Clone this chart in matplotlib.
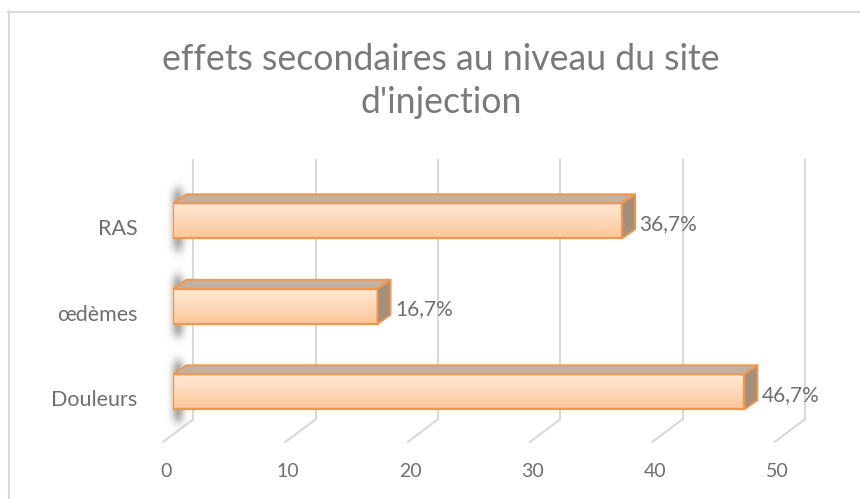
import matplotlib.pyplot as plt
import numpy as np
from matplotlib.patches import Polygon, Rectangle
from matplotlib.lines import Line2D

plt.rcParams['font.family'] = ['Lato', 'DejaVu Sans']
plt.rcParams['image.composite_image'] = False

# data
categories = ["Douleurs", "œdèmes", "RAS"]
values = [46.7, 16.7, 36.7]
value_labels = ["46,7%", "16,7%", "36,7%"]
x_ticks = [0, 10, 20, 30, 40, 50]
title_lines = ["effets secondaires au niveau du site", "d'injection"]

W, H = 860, 499
fig = plt.figure(figsize=(W / 100, H / 100), dpi=100)

# axes geometry (pixels, from top-left) for the bar front plane
x0_px, x_scale = 173.3, 12.23      # px per unit on x
y0_px, y_scale = 391.8, 85.5       # px per category step
xmax, ylo, yhi = 50, -0.6, 2.6
left_px = x0_px
right_px = x0_px + xmax * x_scale
bot_px = y0_px - ylo * y_scale
top_px = y0_px - yhi * y_scale
ax = fig.add_axes([left_px / W, (H - bot_px) / H,
                   (right_px - left_px) / W, (bot_px - top_px) / H])
ax.set_xlim(0, xmax)
ax.set_ylim(ylo, yhi)
ax.axis('off')

def px(dx=0, dy=0):
    # pixel offset -> data offset (dy positive = up)
    return dx / x_scale, dy / y_scale

text_col = '#6f6f6f'
grid_col = '#d9d9d9'

# floor / gridlines (back wall at +20px, floor front at -10px)
fx, fy = px(-10, -50)
bx, by = px(20, -27.5)
top_y = (y0_px - 160) / y_scale
for t in x_ticks:
    ax.add_line(Line2D([t + fx, t + bx], [fy, by], color=grid_col, lw=1.5,
                       clip_on=False, zorder=1))
    ax.add_line(Line2D([t + bx, t + bx], [by, top_y], color=grid_col, lw=1.5,
                       clip_on=False, zorder=1))
    lx, ly = px(-7.5, -80)
    ax.text(t + lx, ly, str(t), ha='center', va='center', fontsize=14,
            color=text_col, clip_on=False)

# 3d bars
h = 35 / y_scale
ddx, ddy = px(13, 9)
edge = '#f0974a'
top_c = np.array([1.0, 0.91, 0.84])
bot_c = np.array([0.99, 0.78, 0.60])
grad = np.linspace(bot_c, top_c, 64)[:, None, :]

# soft shadow texture behind the left end of each bar
sx_px = np.linspace(-12, 22, 68)
sy_px = np.linspace(-26, 35 + 24, 170)        # 0 = front top edge, down positive
ax_prof = np.exp(-0.5 * ((sx_px - 5) / 4.5) ** 2)
ay_prof = 1 / (1 + np.exp((sy_px - 47) / 3)) * 1 / (1 + np.exp(-(sy_px + 13) / 3))
shadow = np.zeros((len(sy_px), len(sx_px), 4))
shadow[..., :3] = 0.3
shadow[..., 3] = 0.5 * ay_prof[:, None] * ax_prof[None, :]

for i, (cat, v, lab) in enumerate(zip(categories, values, value_labels)):
    yb, yt = i - h / 2, i + h / 2
    sx0, _ = px(sx_px[0])
    sx1, _ = px(sx_px[-1])
    ax.imshow(shadow, extent=[sx0, sx1, yt - sy_px[-1] / y_scale, yt - sy_px[0] / y_scale],
              origin='upper', aspect='auto', interpolation='bilinear', zorder=2,
              clip_on=False)

    ax.imshow(grad, extent=[0, v, yb, yt], origin='lower', aspect='auto',
              interpolation='bilinear', zorder=3)
    ax.add_patch(Rectangle((0, yb), v, h, facecolor='none', edgecolor=edge,
                           lw=1.6, zorder=4))
    ax.add_patch(Polygon([(0, yt), (v, yt), (v + ddx, yt + ddy), (ddx, yt + ddy)],
                         closed=True, facecolor='#c2b0a2', edgecolor=edge,
                         lw=1.4, joinstyle='round', zorder=4))
    ax.add_patch(Polygon([(v, yb), (v, yt), (v + ddx, yt + ddy), (v + ddx, yb + ddy)],
                         closed=True, facecolor='#a58e7a', edgecolor=edge,
                         lw=1.4, joinstyle='round', zorder=4))

    vx, vy = px(4.5, -9.2)
    ax.text(v + ddx + vx, i + vy, lab, ha='left', va='baseline', fontsize=15,
            color=text_col, clip_on=False, zorder=5)
    cx, cy = px(-36, -14.4)
    ax.text(cx, i + cy, cat, ha='right', va='baseline', fontsize=15.5,
            color=text_col, clip_on=False, zorder=5)

ax.set_xlim(0, xmax)
ax.set_ylim(ylo, yhi)

# title
for line, base in zip(title_lines, [70, 113]):
    fig.text(441 / W, 1 - base / H, line, ha='center', va='baseline',
             fontsize=25.7, color='#7a7a7a')

# chart border
fig.add_artist(Line2D([8.5 / W, 8.5 / W], [0, 1 - 11 / H], color=grid_col,
                      lw=1.5, transform=fig.transFigure))
fig.add_artist(Line2D([8 / W, 1], [1 - 11.5 / H, 1 - 11.5 / H], color=grid_col,
                      lw=1.5, transform=fig.transFigure))

fig.savefig('out.png', dpi=100)
